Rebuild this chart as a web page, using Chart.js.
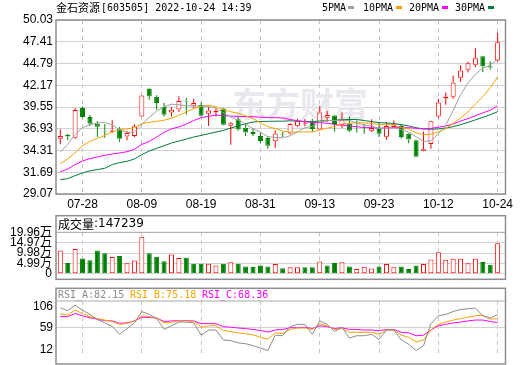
<!DOCTYPE html>
<html lang="zh">
<head>
<meta charset="UTF-8">
<title>金石资源 日K</title>
<style>
  body { margin: 0; background: #fff; }
  #wrap { position: relative; width: 520px; height: 365px; }
  canvas { position: absolute; left: 0; }
</style>
</head>
<body>
<div id="wrap">
  <canvas id="kChart" width="520" height="210" style="top:0"></canvas>
  <canvas id="volChart" width="520" height="75" style="top:210px"></canvas>
  <canvas id="rsiChart" width="520" height="80" style="top:285px"></canvas>
</div>
<script src="https://cdn.jsdelivr.net/npm/chart.js"></script>
<script>
// trading days shown
const dates = ['07-25','07-26','07-27','07-28','07-29','08-01','08-02','08-03','08-04','08-05',
  '08-08','08-09','08-10','08-11','08-12','08-15','08-16','08-17','08-18','08-19',
  '08-22','08-23','08-24','08-25','08-26','08-29','08-30','08-31','09-01','09-02',
  '09-05','09-06','09-07','09-08','09-09','09-13','09-14','09-15','09-16','09-19',
  '09-20','09-21','09-22','09-23','09-26','09-27','09-28','09-29','09-30','10-10',
  '10-11','10-12','10-13','10-14','10-17','10-18','10-19','10-20','10-21','10-24'];
const xTickLabels = ['07-28','08-09','08-19','08-31','09-13','09-23','10-12','10-24'];
const priceTicks = [29.07,31.69,34.31,36.93,39.55,42.17,44.79,47.41,50.03];

const openP  = [35.73,36.21,35.85,39.42,38.34,37.54,36.69,36.57,36.93,36.01,
  36.05,38.42,41.74,40.78,39.54,38.90,39.26,40.30,39.70,39.78,
  38.74,38.90,39.38,37.30,38.06,37.06,36.53,36.05,35.81,35.41,
  36.23,36.37,37.30,37.50,37.62,36.85,38.26,38.54,37.34,37.54,
  37.42,37.30,36.69,36.89,35.97,37.13,37.26,36.33,35.53,34.29,
  35.09,38.42,40.58,40.78,43.07,44.03,44.63,45.67,44.47,45.15];
const highP  = [36.85,36.33,39.42,39.62,38.58,37.86,37.50,37.94,37.13,36.65,
  37.46,40.98,41.86,40.98,40.02,39.54,40.86,40.66,40.54,40.10,
  39.54,39.38,39.46,37.74,38.34,37.54,37.01,36.45,36.05,36.73,
  36.57,37.58,38.10,38.10,38.10,39.66,39.06,38.62,38.90,38.42,
  37.94,37.54,38.06,37.62,37.74,37.94,37.50,36.41,35.61,36.61,
  37.90,40.54,41.30,43.34,44.59,45.03,46.63,45.71,45.03,48.51];
const lowP   = [35.05,35.53,35.73,38.22,37.26,35.93,35.85,36.41,35.33,35.53,
  35.93,38.38,40.42,39.22,38.42,38.42,38.94,38.66,39.38,38.42,
  37.26,38.42,37.34,35.01,36.69,36.05,36.05,35.17,34.53,34.65,
  35.93,36.25,37.14,37.22,36.53,36.77,37.74,36.61,37.01,36.53,
  36.49,36.33,36.53,35.93,35.61,37.02,35.73,35.17,33.53,34.21,
  34.53,38.22,39.82,40.54,42.58,43.70,44.35,43.78,44.03,44.99];
const closeP = [36.05,36.01,39.18,38.34,37.54,37.18,36.61,36.73,35.73,36.41,
  37.22,40.94,40.82,40.02,38.62,39.22,40.26,40.22,40.02,38.50,
  39.14,39.06,37.42,37.58,36.85,36.49,36.29,35.45,34.89,36.37,
  36.19,37.50,37.82,37.58,36.89,38.90,38.58,37.50,38.02,36.69,
  37.34,37.26,37.01,36.33,37.26,37.46,35.93,35.65,33.57,34.45,
  37.82,40.10,40.82,42.50,43.95,44.83,45.43,44.47,44.31,47.35];

const ma5  = [34.13,35.05,36.25,37.05,37.41,37.62,37.70,37.38,36.82,36.49,
  36.49,37.45,38.30,39.06,39.54,39.90,39.82,39.70,39.66,39.66,
  39.62,39.38,38.86,38.34,37.98,37.50,36.93,36.53,35.97,35.89,
  35.84,36.08,36.55,37.05,37.22,37.72,37.94,37.90,37.98,37.92,
  37.62,37.36,37.26,36.95,37.02,37.05,36.80,36.53,35.97,35.41,
  35.48,36.32,37.35,39.14,41.04,42.44,43.51,44.24,44.60,45.28];
const ma10 = [32.73,33.29,34.05,34.89,35.41,35.77,36.13,36.53,36.81,36.92,
  37.05,37.54,37.70,37.82,37.96,38.20,38.55,38.95,39.35,39.60,
  39.75,39.58,39.22,38.98,38.80,38.50,38.14,37.66,37.18,36.96,
  36.66,36.50,36.54,36.54,36.55,36.78,37.00,37.20,37.50,37.56,
  37.66,37.64,37.56,37.44,37.46,37.35,37.08,36.90,36.45,36.23,
  36.27,36.56,36.94,37.56,38.23,38.96,39.91,40.79,41.87,43.16];
const ma20 = [31.73,32.09,32.61,33.05,33.33,33.53,33.73,33.89,34.01,34.17,
  34.45,35.05,35.41,35.93,36.49,36.93,37.15,37.50,37.92,38.26,
  38.42,38.58,38.50,38.46,38.42,38.40,38.38,38.32,38.27,38.27,
  38.22,38.05,37.90,37.77,37.69,37.67,37.59,37.45,37.35,37.26,
  37.17,37.08,37.06,37.00,37.02,37.07,37.05,37.06,36.99,36.90,
  36.98,37.11,37.26,37.50,37.86,38.15,38.50,38.84,39.16,39.69];
const ma30 = [30.80,30.92,31.28,31.61,31.85,32.01,32.17,32.61,32.85,33.01,
  33.29,33.81,34.25,34.57,34.89,35.21,35.45,35.69,35.93,36.13,
  36.33,36.53,36.73,37.01,37.29,37.54,37.74,37.80,37.82,37.84,
  37.84,37.89,37.85,37.82,37.80,37.86,37.92,37.95,38.03,38.04,
  38.04,37.92,37.79,37.67,37.62,37.56,37.42,37.27,37.05,36.92,
  36.87,36.91,37.02,37.18,37.42,37.70,38.00,38.30,38.62,38.98];

const volume = [111700,52200,118800,73500,65000,111700,99000,80600,86200,50800,
  63600,178200,99000,82000,60700,93300,76300,77700,48000,48000,
  48000,39500,48000,55100,48000,35200,32400,39500,35200,46600,
  26800,31000,31000,31000,31000,59300,39500,52200,55100,35200,
  22500,33800,25400,35200,46600,31000,35200,22500,39500,46600,
  69200,103200,67800,72100,72100,50800,72100,56500,43700,147239];
const volUp = [1,0,1,0,0,0,0,1,0,1, 1,1,0,0,0,1,1,0,0,0, 1,1,0,1,0,0,0,0,0,1,
  0,1,1,0,0,1,0,0,1,0, 1,1,1,0,1,1,0,0,0,1, 1,1,1,1,1,1,1,0,0,1];
const volTicks = [0,49900,99800,149700,199600];

const rsiA = [94.1,89.1,98.5,90.1,82.6,73.7,67.7,61.7,47.8,57.8,
  67.7,87.6,82.6,75.2,56.3,62.7,69.2,69.2,67.7,46.3,
  55.3,55.3,37.9,36.9,32.9,31.4,27.9,23.9,19.5,46.3,
  45.3,61.2,65.2,65.2,47.8,71.2,65.2,52.8,60.2,41.4,
  45.3,45.3,47.8,38.9,55.3,55.3,37.9,30.4,19.5,27.9,
  66.2,80.1,82.6,87.6,91.1,92.6,93.6,80.1,76.2,82.15];
const rsiB = [83.6,81.6,90.1,84.1,78.7,75.2,72.7,70.2,65.2,66.7,
  71.2,80.1,78.7,76.7,67.7,68.7,71.2,71.2,70.2,60.2,
  62.7,62.7,54.3,52.8,50.3,48.8,46.8,42.8,39.4,50.3,
  49.3,56.3,58.8,58.8,56.3,66.2,62.7,56.3,57.8,51.3,
  51.3,51.3,51.3,47.8,55.3,55.3,46.3,42.8,34.4,37.9,
  55.3,65.2,69.2,72.7,75.2,77.6,80.1,81.1,74.2,75.18];
const rsiC = [78.7,78.7,84.1,80.1,76.7,74.2,71.7,71.2,67.2,67.7,
  71.2,77.6,77.2,76.2,70.2,71.2,71.7,71.7,71.2,66.2,
  66.7,66.2,61.2,60.2,58.8,57.8,56.3,54.3,51.8,55.3,
  56.3,59.3,59.3,60.2,57.8,62.7,61.2,57.8,59.3,56.3,
  56.3,55.3,55.3,54.3,56.3,56.3,51.3,50.3,45.3,46.3,
  55.3,62.7,65.2,67.7,69.2,71.2,72.7,72.7,70.2,68.36];
const rsiTicks = [12,59,106];

const RED = '#ff0000', GREEN = '#008000';
const MA_COLORS = ['#a0a0a0', '#f5a300', '#ff00ff', '#007a3a'];
const GRID = '#d2d2d2', FRAME = '#8e8e8e';
const AXIS_FONT = { family: '"Liberation Sans", "Noto Sans CJK SC"', size: 12 };
const X_MIN = -0.58, X_MAX = 60.06;

Chart.defaults.color = '#000';
Chart.defaults.animation = false;
Chart.defaults.events = [];
Chart.defaults.plugins.legend.display = false;
Chart.defaults.plugins.tooltip.enabled = false;

const tickIdx = xTickLabels.map(l => dates.indexOf(l));
const pts = arr => arr.map((v, i) => ({ x: i, y: v }));

function xAxis(showLabels, height) {
  return {
    type: 'linear', min: X_MIN, max: X_MAX, offset: false,
    afterBuildTicks: s => { s.ticks = tickIdx.map(v => ({ value: v })); },
    afterFit: s => { s.height = height; },
    ticks: { display: showLabels, autoSkip: false, maxRotation: 0, padding: 3,
             font: AXIS_FONT, callback: v => dates[v] },
    grid: { color: '#c4c4c4', drawTicks: false, offset: false },
    border: { display: false, dash: [4, 4] }
  };
}

function framePlugin(top, sep, bottom) {
  return {
    id: 'frame',
    afterDraw(chart) {
      const c = chart.ctx;
      c.save();
      c.strokeStyle = FRAME;
      c.lineWidth = 1.5;
      c.strokeRect(56, top, 449.5, bottom - top);
      if (sep !== null) {
        c.lineWidth = 1;
        c.strokeStyle = '#a8a8a8';
        c.beginPath(); c.moveTo(56, sep); c.lineTo(505.5, sep); c.stroke();
      }
      c.restore();
    }
  };
}

// ---------- main candle chart ----------
const up = closeP.map((c, i) => c >= openP[i]);
const bodyData = closeP.map((c, i) => ({ x: i, y: [openP[i], c] }));
const upperWick = closeP.map((c, i) => ({ x: i, y: [Math.max(openP[i], c), highP[i]] }));
const lowerWick = closeP.map((c, i) => ({ x: i, y: [lowP[i], Math.min(openP[i], c)] }));

const headerPlugin = {
  id: 'header',
  afterDraw(chart) {
    const c = chart.ctx;
    c.save();
    c.textBaseline = 'middle';
    c.fillStyle = '#000';
    c.font = '11px "Noto Sans CJK SC"';
    const name = '金石资源';
    c.fillText(name, 56, 8);
    const w = c.measureText(name).width;
    c.font = '10px "DejaVu Sans Mono"';
    c.fillText('[603505] 2022-10-24 14:39', 56 + w + 1, 8);
    const names = ['5PMA', '10PMA', '20PMA', '30PMA'];
    const tx = [322, 363, 409, 455], bx = [348, 396, 442, 488];
    names.forEach((n, k) => {
      c.fillStyle = '#000';
      c.fillText(n, tx[k], 8);
      c.fillStyle = MA_COLORS[k];
      c.fillRect(bx[k], 6, 6, 3);
    });
    c.restore();
  }
};

const watermarkPlugin = {
  id: 'watermark',
  beforeDatasetsDraw(chart) {
    const c = chart.ctx;
    c.save();
    c.fillStyle = '#e8e8ee';
    c.font = 'bold 34px "Noto Sans CJK SC"';
    c.textBaseline = 'middle';
    c.fillText('东方财富', 232, 104);
    c.restore();
  }
};

new Chart(document.getElementById('kChart'), {
  type: 'bar',
  data: {
    datasets: [
      ...[ma5, ma10, ma20, ma30].map((m, k) => ({
        type: 'line', data: pts(m), borderColor: MA_COLORS[k], borderWidth: 1,
        pointRadius: 0, tension: 0, order: k
      })),
      { data: bodyData, order: 10, grouped: false, barThickness: 5, borderSkipped: false,
        borderWidth: 1, inflateAmount: 0,
        backgroundColor: up.map(u => u ? '#ffffff' : GREEN),
        borderColor: up.map(u => u ? RED : GREEN) },
      { data: upperWick, order: 11, grouped: false, barThickness: 1, borderWidth: 0,
        inflateAmount: 0, backgroundColor: up.map(u => u ? RED : GREEN) },
      { data: lowerWick, order: 12, grouped: false, barThickness: 1, borderWidth: 0,
        inflateAmount: 0, backgroundColor: up.map(u => u ? RED : GREEN) }
    ]
  },
  options: {
    responsive: false,
    layout: { padding: { top: 20, right: 14.5, left: 0, bottom: 0 } },
    scales: {
      x: xAxis(true, 16),
      y: {
        min: 29.07, max: 50.03,
        afterBuildTicks: s => { s.ticks = priceTicks.map(v => ({ value: v })); },
        afterFit: s => { s.width = 56; },
        ticks: { font: AXIS_FONT, padding: 3, autoSkip: false, callback: v => v.toFixed(2) },
        grid: { color: GRID, drawTicks: false },
        border: { display: false }
      }
    }
  },
  plugins: [watermarkPlugin, headerPlugin, framePlugin(20, null, 194)]
});

// ---------- volume ----------
const volTitle = {
  id: 'volTitle',
  afterDraw(chart) {
    const c = chart.ctx;
    c.save();
    c.textBaseline = 'middle';
    c.fillStyle = '#000';
    c.font = '12px "Noto Sans CJK SC"';
    c.fillText('成交量', 58, 14);
    c.font = '12px "DejaVu Sans"';
    c.fillText(':' + volume[volume.length - 1], 94, 14);
    c.restore();
  }
};

new Chart(document.getElementById('volChart'), {
  type: 'bar',
  data: {
    datasets: [{
      data: pts(volume), grouped: false, barThickness: 5, borderSkipped: false,
      borderWidth: 1, inflateAmount: 0,
      backgroundColor: volUp.map(u => u ? '#ffffff' : GREEN),
      borderColor: volUp.map(u => u ? RED : GREEN)
    }]
  },
  options: {
    responsive: false,
    layout: { padding: { top: 22.3, right: 14.5, left: 0, bottom: 0 } },
    scales: {
      x: xAxis(false, 5.7),
      y: {
        min: 0, max: 199600,
        afterBuildTicks: s => { s.ticks = volTicks.map(v => ({ value: v })); },
        afterFit: s => { s.width = 56; },
        ticks: { font: AXIS_FONT, padding: 4, autoSkip: false,
                 callback: v => v === 0 ? '0' : (v / 10000).toFixed(2) + '万' },
        grid: { color: GRID, drawTicks: false },
        border: { display: false }
      }
    }
  },
  plugins: [volTitle, framePlugin(5.7, 22.3, 69.3)]
});

// ---------- RSI ----------
const rsiTitle = {
  id: 'rsiTitle',
  afterDraw(chart) {
    const c = chart.ctx;
    c.save();
    c.textBaseline = 'middle';
    c.font = '10px "DejaVu Sans Mono"';
    const parts = [['RSI_A:' + rsiA[59].toFixed(2), '#8c8c8c', 58],
                   ['RSI_B:' + rsiB[59].toFixed(2), '#f5a300', 130],
                   ['RSI_C:' + rsiC[59].toFixed(2), '#ff00ff', 202]];
    parts.forEach(([t, col, x]) => { c.fillStyle = col; c.fillText(t, x, 10); });
    c.restore();
  }
};

new Chart(document.getElementById('rsiChart'), {
  type: 'line',
  data: {
    datasets: [rsiA, rsiB, rsiC].map((r, k) => ({
      data: pts(r), borderColor: ['#8c8c8c', '#f5a300', '#ff00ff'][k], borderWidth: 1,
      pointRadius: 0, tension: 0, yAxisID: 'y'
    }))
  },
  options: {
    responsive: false,
    layout: { padding: { top: 16, right: 14.5, left: 0, bottom: 0 } },
    scales: {
      x: xAxis(false, 1),
      y: {
        display: true, min: 12, max: 106, position: 'left',
        afterBuildTicks: s => { s.ticks = [{ value: rsiTicks[1] }]; },
        afterFit: s => { s.width = 0; },
        ticks: { display: false },
        grid: { color: GRID, drawTicks: false },
        border: { display: false }
      },
      yl: {
        min: 0.25, max: 117.75, position: 'left',
        afterBuildTicks: s => { s.ticks = rsiTicks.map(v => ({ value: v })); },
        afterFit: s => { s.width = 56; },
        ticks: { font: AXIS_FONT, padding: 3, autoSkip: false },
        grid: { display: false, drawTicks: false },
        border: { display: false }
      }
    }
  },
  plugins: [rsiTitle, framePlugin(3.3, 16, 79)]
});
</script>
</html>
